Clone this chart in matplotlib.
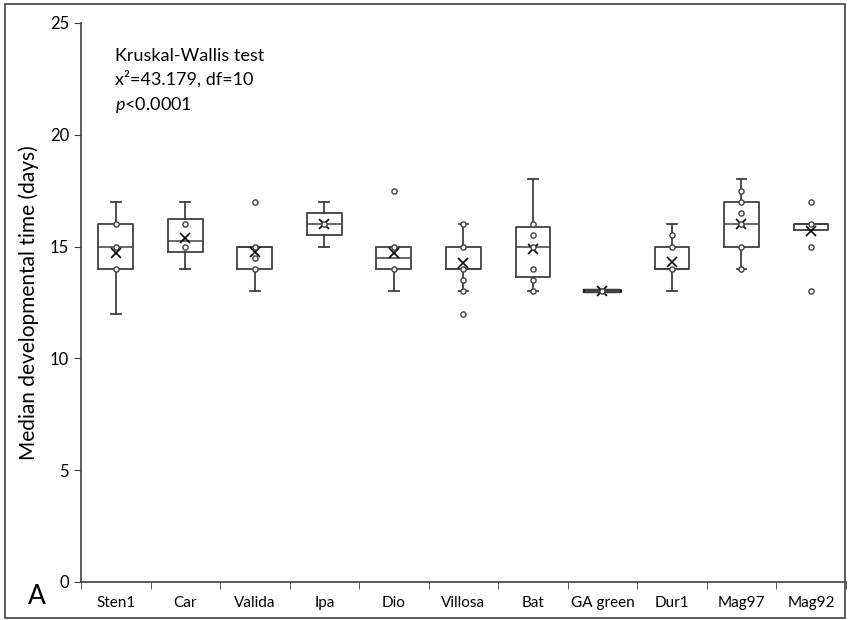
import numpy as np
import matplotlib
matplotlib.use("Agg")
import matplotlib.pyplot as plt
from matplotlib.patches import Rectangle

plt.rcParams['font.family'] = ['Lato', 'DejaVu Sans']
plt.rcParams['mathtext.fontset'] = 'custom'
plt.rcParams['mathtext.rm'] = 'Lato'
plt.rcParams['mathtext.it'] = 'Lato:italic'

# box statistics
groups = ['Sten1', 'Car', 'Valida', 'Ipa', 'Dio', 'Villosa', 'Bat',
          'GA green', 'Dur1', 'Mag97', 'Mag92']
q1 = [14, 14.75, 14, 15.5, 14, 14, 13.625, 13, 14, 15, 15.75]
med = [15, 15.25, 15, 16, 14.5, 14, 15, 13, 14, 16, 16]
q3 = [16, 16.25, 15, 16.5, 15, 15, 15.875, 13, 15, 17, 16]
whislo = [12, 14, 13, 15, 13, 13, 13, 13, 13, 14, 15.75]
whishi = [17, 17, 15, 17, 15, 16, 18, 13, 16, 18, 16]
means = [14.7, 15.4, 14.75, 16, 14.7, 14.25, 14.9, 13, 14.33, 16, 15.7]
# individual points (inner points and outliers)
points = [
    [16, 15, 14],
    [16, 15],
    [17, 15, 14.5, 14],
    [16],
    [17.5, 15, 14],
    [16, 15, 14, 13.5, 13, 12],
    [16, 15.5, 15, 14, 13.5, 13],
    [13],
    [15.5, 15, 14],
    [17.5, 17, 16.5, 16, 15, 14],
    [17, 16, 15, 13],
]

fig = plt.figure(figsize=(8.5, 6.2), dpi=100)
ax = fig.add_axes([0.0953, 0.0613, 0.8997, 0.9017])

edge = '#404040'
stats = []
for i in range(len(groups)):
    stats.append(dict(med=med[i], q1=q1[i], q3=q3[i], whislo=whislo[i],
                      whishi=whishi[i], mean=means[i], fliers=[]))

pos = np.arange(1, len(groups) + 1)
bp = ax.bxp(stats, positions=pos, widths=0.5, capwidths=0.14,
            showmeans=True, showfliers=False,
            boxprops=dict(color=edge, linewidth=1.3),
            medianprops=dict(color=edge, linewidth=1.1),
            whiskerprops=dict(color=edge, linewidth=1.3),
            capprops=dict(color=edge, linewidth=1.3),
            meanprops=dict(marker='x', markeredgecolor='black', markersize=7,
                           markeredgewidth=1.2))

# collapsed box (all values equal) shows as a thick bar
for i in range(len(groups)):
    if q1[i] == q3[i] == med[i]:
        bp['boxes'][i].set_linewidth(3)
        bp['medians'][i].set_linewidth(3)
        bp['boxes'][i].set_color('#222222')

for i, pts in enumerate(points):
    ax.scatter([pos[i]] * len(pts), pts, s=14, facecolors='white',
               edgecolors=edge, linewidths=1.0, zorder=4)

ax.set_xlim(0.5, len(groups) + 0.5)
ax.set_ylim(0, 25)
ax.set_yticks([0, 5, 10, 15, 20, 25])
ax.set_xticks(pos)
ax.set_xticklabels(groups)
ax.set_xticks(np.arange(0.5, len(groups) + 1), minor=True)
ax.tick_params(axis='x', which='major', length=0, pad=10, labelsize=11)
ax.tick_params(axis='x', which='minor', length=5, direction='out', color=edge)
ax.tick_params(axis='y', length=5, direction='out', color=edge, labelsize=12)
for s in ['top', 'right']:
    ax.spines[s].set_visible(False)
for s in ['left', 'bottom']:
    ax.spines[s].set_color(edge)
    ax.spines[s].set_linewidth(1.2)

ax.set_ylabel('Median developmental time (days)', fontsize=15, labelpad=8)

ax.text(0.0445, 0.932, 'Kruskal-Wallis test', transform=ax.transAxes,
        fontsize=13, va='baseline')
ax.text(0.0445, 0.889, 'x\u00b2=43.179, df=10', transform=ax.transAxes,
        fontsize=13, va='baseline')
ax.text(0.0445, 0.844, r'$\it{p}$<0.0001', transform=ax.transAxes,
        fontsize=13, va='baseline')

fig.text(0.033, 0.025, 'A', fontsize=19, va='baseline')

fig.patches.append(Rectangle((0.006, 0.004), 0.988, 0.99, transform=fig.transFigure,
                             fill=False, edgecolor=edge, linewidth=1.2))

fig.savefig('out.png', dpi=100)
